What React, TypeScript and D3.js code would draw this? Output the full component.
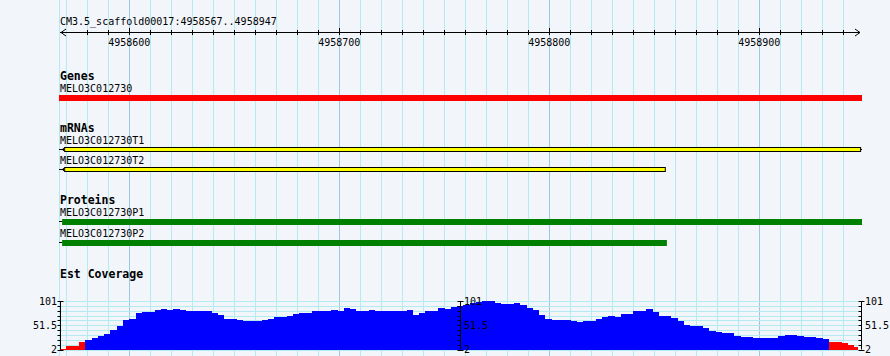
import React from "react";
import * as d3 from "d3";

const viewStart = 4958567;
const viewEnd = 4958947;
const rulerTitle = "CM3.5_scaffold00017:4958567..4958947";
const majorTicks = [4958600, 4958700, 4958800, 4958900];

const geneNames = ["MELO3C012730"];
const geneStarts = [4958566];
const geneEnds = [4958949];

const mrnaNames = ["MELO3C012730T1", "MELO3C012730T2"];
const mrnaStarts = [4958569, 4958569];
const mrnaEnds = [4958948, 4958855];

const proteinNames = ["MELO3C012730P1", "MELO3C012730P2"];
const proteinStarts = [4958568, 4958568];
const proteinEnds = [4958949, 4958856];

const coverageBin = 3;
const coverage = [
  4, 9, 10, 17, 22, 25, 29, 33, 41, 50,
  63, 65, 76, 79, 79, 82, 84, 82, 85, 82,
  80, 80, 80, 81, 77, 73, 64, 64, 62, 61,
  61, 61, 62, 65, 68, 69, 71, 75, 76, 77,
  80, 81, 81, 83, 81, 86, 84, 81, 81, 82,
  81, 81, 80, 80, 81, 82, 73, 77, 81, 81,
  86, 84, 88, 90, 93, 96, 98, 100, 101, 96,
  95, 94, 97, 93, 86, 82, 72, 65, 63, 62,
  63, 60, 58, 60, 60, 64, 69, 71, 69, 74,
  74, 80, 80, 84, 79, 71, 71, 67, 60, 52,
  49, 49, 45, 40, 38, 36, 35, 30, 28, 28,
  25, 25, 26, 26, 30, 32, 31, 29, 28, 27,
  26, 23, 17, 17, 15, 11, 8,
];
const covMin = 2;
const covMax = 101;
const covLabels = ["101", "51.5", "2"];
const lowThreshold = 20;

const W = 890;
const H = 356;
const FONT = "'DejaVu Sans Mono', 'Liberation Mono', monospace";
const BG = "#F2F5FA";
const GRID = "#B2EBF0";
const GRID_MAJOR = "#98C8E4";

export default function App() {
  const x = d3.scaleLinear().domain([viewStart, viewEnd]).range([60, 858]);
  const panelL = 59;
  const panelR = 862;
  const clip = (v: number) => Math.max(panelL, Math.min(panelR, v));

  const gridTicks = d3.range(Math.ceil(viewStart / 10) * 10, viewEnd + 1, 10);
  const y = d3.scaleLinear().domain([covMin, covMax]).range([349.5, 301]);
  const yTicks = d3.range(11).map((i) => covMin + ((covMax - covMin) * i) / 10);

  const axisAt = (ax: number, labelSide: "left" | "right", key: string) => (
    <g key={key}>
      <line x1={ax + 0.5} x2={ax + 0.5} y1={y(covMax)} y2={y(covMin)} stroke="#000" />
      {yTicks.map((t, i) => (
        <line
          key={i}
          x1={ax - 2.5}
          x2={i === 0 || i === 10 ? ax + 3.5 : ax + 0.5}
          y1={Math.round(y(t)) + 0.5}
          y2={Math.round(y(t)) + 0.5}
          stroke="#000"
        />
      ))}
      {[covMax, (covMax + covMin) / 2, covMin].map((v, i) => (
        <text
          key={"l" + i}
          x={labelSide === "left" ? ax - 3 : ax + 4}
          y={y(v) + 3.5}
          fontFamily={FONT}
          fontSize={10}
          textAnchor={labelSide === "left" ? "end" : "start"}
        >
          {covLabels[i]}
        </text>
      ))}
    </g>
  );

  const label = (txt: string, yy: number, bold = false) => (
    <text
      x={60}
      y={yy}
      fontFamily={FONT}
      fontSize={bold ? 11.5 : 10}
      fontWeight={bold ? "bold" : "normal"}
      fill="#000"
    >
      {txt}
    </text>
  );

  return (
    <div style={{ position: "absolute", left: 0, top: 0 }}>
      <svg width={W} height={H} style={{ display: "block" }}>
        <rect x={0} y={0} width={W} height={H} fill={BG} />
        {/* vertical grid */}
        <line x1={59.5} x2={59.5} y1={0} y2={H} stroke={GRID} />
        {gridTicks.map((t) => (
          <line
            key={t}
            x1={Math.round(x(t)) + 0.5}
            x2={Math.round(x(t)) + 0.5}
            y1={0}
            y2={H}
            stroke={t % 100 === 0 ? GRID_MAJOR : GRID}
          />
        ))}

        {/* ruler */}
        <text x={60} y={25} fontFamily={FONT} fontSize={10}>
          {rulerTitle}
        </text>
        <line x1={60} x2={860} y1={32.5} y2={32.5} stroke="#000" />
        <path d="M66,29 L61,32.5 L66,36" fill="none" stroke="#000" />
        <path d="M855,29 L860,32.5 L855,36" fill="none" stroke="#000" />
        {gridTicks
          .filter((t) => t > viewStart + 3)
          .map((t) => {
            const xx = Math.round(x(t)) + 0.5;
            const major = t % 100 === 0;
            return (
              <line key={"rt" + t} x1={xx} x2={xx} y1={major ? 28 : 30} y2={35} stroke="#000" />
            );
          })}
        {majorTicks.map((t) => (
          <text
            key={"ml" + t}
            x={x(t)}
            y={46}
            fontFamily={FONT}
            fontSize={10}
            textAnchor="middle"
          >
            {t}
          </text>
        ))}

        {/* Genes */}
        {label("Genes", 80, true)}
        {geneNames.map((n, i) => (
          <g key={n}>
            {label(n, 92)}
            <rect
              x={clip(x(geneStarts[i]))}
              y={95}
              width={clip(x(geneEnds[i])) - clip(x(geneStarts[i]))}
              height={6}
              fill="#FF0000"
            />
          </g>
        ))}

        {/* mRNAs */}
        {label("mRNAs", 132, true)}
        {mrnaNames.map((n, i) => {
          const ty = 144 + i * 20;
          const by = 147.5 + i * 20;
          const x0 = clip(x(mrnaStarts[i]));
          const x1 = clip(x(mrnaEnds[i]));
          return (
            <g key={n}>
              {label(n, ty)}
              <line x1={59} x2={x0} y1={by + 2} y2={by + 2} stroke="#000" />
              <path d={`M${x0 + 1},${by} L${x0 - 2},${by + 2} L${x0 + 1},${by + 4}`} fill="none" stroke="#000" />
              <rect x={x0 + 0.5} y={by} width={x1 - x0} height={4} fill="#FFFF00" stroke="#000" />
              {i === 0 && <line x1={x1} x2={862} y1={by + 2} y2={by + 2} stroke="#000" />}
            </g>
          );
        })}

        {/* Proteins */}
        {label("Proteins", 203.5, true)}
        {proteinNames.map((n, i) => {
          const ty = 216 + i * 20.5;
          const by = 219 + i * 21;
          const x0 = clip(x(proteinStarts[i]));
          const x1 = clip(x(proteinEnds[i]));
          return (
            <g key={n}>
              {label(n, ty)}
              <line x1={59} x2={x0} y1={by + 2.5} y2={by + 2.5} stroke="#000" />
              <rect x={x0} y={by} width={x1 - x0} height={6} fill="#008000" />
            </g>
          );
        })}

        {/* Coverage */}
        {label("Est Coverage", 277.5, true)}
        {yTicks.map((t, i) => (
          <line
            key={"hg" + i}
            x1={60}
            x2={862}
            y1={Math.round(y(t)) + 0.5}
            y2={Math.round(y(t)) + 0.5}
            stroke={GRID}
          />
        ))}
        {coverage.map((v, i) => {
          const s = viewStart + i * coverageBin;
          const x0 = x(s);
          const x1 = Math.min(x(s + coverageBin), 858);
          return (
            <rect
              key={"c" + i}
              x={x0}
              y={y(v)}
              width={Math.max(0, x1 - x0) + 0.3}
              height={y(covMin) - y(v)}
              fill={v < lowThreshold ? "#FF0000" : "#0000FF"}
              shapeRendering="crispEdges"
            />
          );
        })}
        {axisAt(60, "left", "ax1")}
        {axisAt(460, "right", "ax2")}
        {axisAt(861, "right", "ax3")}
      </svg>
    </div>
  );
}
